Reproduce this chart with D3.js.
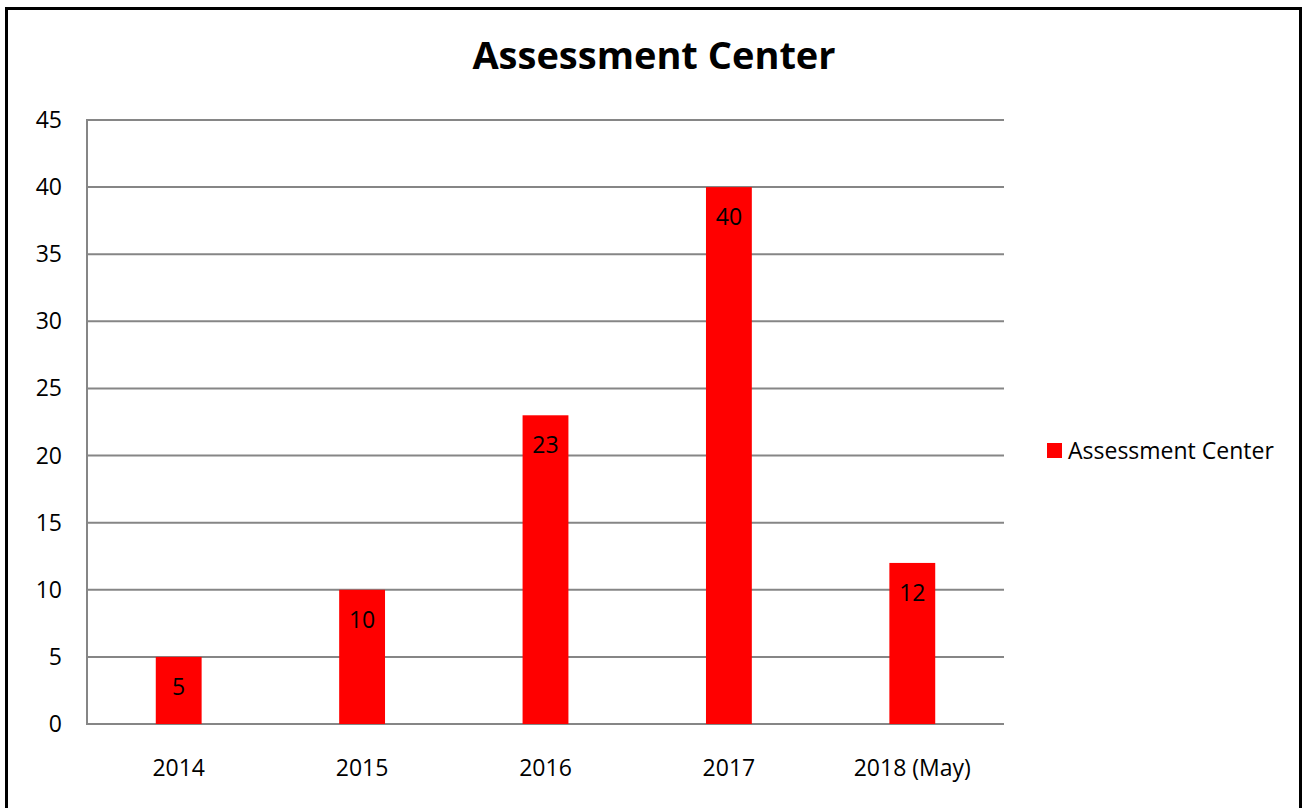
<!DOCTYPE html>
<html>
<head>
<script src="https://d3js.org/d3.v7.min.js"></script>
<style>
body { margin: 0; background: #fff; }
text { font-family: "Open Sans", sans-serif; fill: #000; }
</style>
</head>
<body>
<svg width="1307" height="808"></svg>
<script>
var years = ["2014", "2015", "2016", "2017", "2018 (May)"];
var counts = [5, 10, 23, 40, 12];
var yTicks = [0, 5, 10, 15, 20, 25, 30, 35, 40, 45];
var seriesName = "Assessment Center";

var svg = d3.select("svg");

// outer frame
svg.append("rect")
    .attr("x", 6.5).attr("y", 8.5)
    .attr("width", 1294).attr("height", 820)
    .attr("fill", "none").attr("stroke", "#000").attr("stroke-width", 3);

var plotLeft = 87, plotTop = 120, plotRight = 1004, plotBottom = 724;

var x = d3.scaleBand().domain(years).range([plotLeft, plotRight])
    .paddingInner(0.75).paddingOuter(0.375);
var y = d3.scaleLinear().domain([0, 45]).range([plotBottom, plotTop]);

// gridlines
svg.append("g").selectAll("line")
    .data(yTicks)
    .enter().append("line")
    .attr("x1", plotLeft).attr("x2", plotRight)
    .attr("y1", function (d) { return y(d); })
    .attr("y2", function (d) { return y(d); })
    .attr("stroke", "#868686").attr("stroke-width", 2);

// left axis line
svg.append("line")
    .attr("x1", plotLeft).attr("x2", plotLeft)
    .attr("y1", plotTop - 1).attr("y2", plotBottom + 1)
    .attr("stroke", "#868686").attr("stroke-width", 2);

// y tick labels
svg.append("g").selectAll("text")
    .data(yTicks)
    .enter().append("text")
    .attr("x", 62)
    .attr("y", function (d) { return y(d) + 8; })
    .attr("text-anchor", "end")
    .style("font-size", "23px")
    .text(function (d) { return d; });

// bars
svg.append("g").selectAll("rect")
    .data(counts)
    .enter().append("rect")
    .attr("x", function (d, i) { return x(years[i]); })
    .attr("y", function (d) { return y(d); })
    .attr("width", x.bandwidth())
    .attr("height", function (d) { return plotBottom - y(d); })
    .attr("fill", "#ff0000");

// value labels
svg.append("g").selectAll("text")
    .data(counts)
    .enter().append("text")
    .attr("x", function (d, i) { return x(years[i]) + x.bandwidth() / 2; })
    .attr("y", function (d) { return y(d) + 38; })
    .attr("text-anchor", "middle")
    .style("font-size", "23px")
    .text(function (d) { return d; });

// x labels
svg.append("g").selectAll("text")
    .data(years)
    .enter().append("text")
    .attr("x", function (d) { return x(d) + x.bandwidth() / 2; })
    .attr("y", 776)
    .attr("text-anchor", "middle")
    .style("font-size", "23px")
    .text(function (d) { return d; });

// title
svg.append("text")
    .attr("x", 654).attr("y", 69)
    .attr("text-anchor", "middle")
    .style("font-size", "38px").style("font-weight", "bold")
    .text(seriesName);

// legend
svg.append("rect")
    .attr("x", 1047).attr("y", 443)
    .attr("width", 15).attr("height", 15)
    .attr("fill", "#ff0000");
svg.append("text")
    .attr("x", 1068).attr("y", 459)
    .style("font-size", "23px")
    .text(seriesName);
</script>
</body>
</html>
